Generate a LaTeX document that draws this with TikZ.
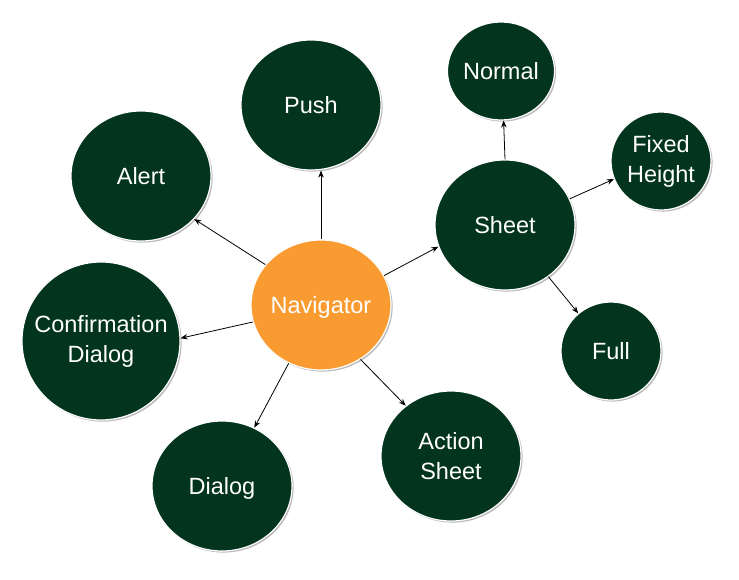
\documentclass[tikz,border=0pt]{standalone}
\usepackage{fontspec}
\setmainfont{Liberation Sans}
\usetikzlibrary{shapes.geometric,shadows,arrows.meta}
\definecolor{darkgreen}{RGB}{3,52,30}
\definecolor{navorange}{RGB}{250,155,50}
\tikzset{
  bubble/.style={ellipse, draw=white, line width=1.2pt, fill=darkgreen,
    text=white, align=center, inner sep=0pt,
    font=\fontsize{23.5}{30}\selectfont,
    drop shadow={shadow xshift=1.6pt, shadow yshift=-1.6pt, fill=black!60, opacity=0.45}},
  big/.style={bubble, minimum width=140pt, minimum height=130pt},
  small/.style={bubble, minimum width=100pt, minimum height=98pt},
  huge/.style={bubble, minimum width=158pt, minimum height=158pt, inner xsep=-14pt},
  link/.style={-{Stealth[length=7pt,width=5.5pt]}, line width=0.8pt, black}
}
\begin{document}
\begin{tikzpicture}[x=1pt,y=-1pt]
\useasboundingbox (0,0) rectangle (739,580);
\node[big, fill=navorange, text depth=0pt, inner xsep=-4pt] (nav) at (321,305) {Navigator};
\node[big] (push) at (311,105) {Push};
\node[big] (alert) at (141,176) {Alert};
\node[huge] (confirm) at (101,341) {Confirmation\\Dialog};
\node[big, text depth=0pt] (dialog) at (222,486) {Dialog};
\node[big] (action) at (451,456) {Action\\Sheet};
\node[big] (sheet) at (505,225) {Sheet};
\node[small] (normal) at (501,71) {Normal};
\node[small] (fixed) at (661,161) {Fixed\\Height};
\node[small] (full) at (611,351) {Full};

\draw[link] (nav.north) -- (nav.north |- push.south);
\draw[link] (nav.144.6) -- (alert.321);
\draw[link] (nav.194.6) -- (confirm.2);
\draw[link] (nav.241) -- (dialog.61.6);
\draw[link] (nav.306.7) -- (action.132);
\draw[link] (nav.25.5) -- (sheet.198.7);
\draw[link] (sheet.90) -- (normal.273);
\draw[link] (sheet.22) -- (fixed.201.6);
\draw[link] (sheet.310.7) -- (full.131);
\end{tikzpicture}
\end{document}
